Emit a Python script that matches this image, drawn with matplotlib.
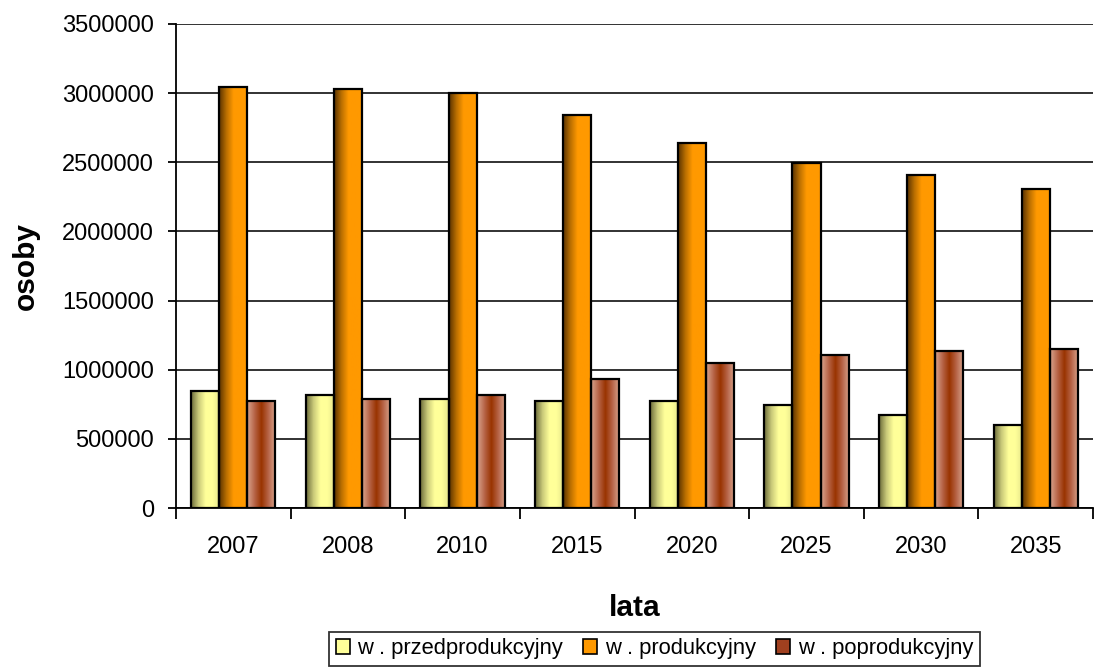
import numpy as np
import matplotlib.pyplot as plt
from matplotlib.colors import LinearSegmentedColormap
from matplotlib.patches import Patch

plt.rcParams['font.family'] = ['Liberation Sans', 'DejaVu Sans']

lata = ['2007', '2008', '2010', '2015', '2020', '2025', '2030', '2035']
przed = [846000, 817000, 785000, 774000, 774000, 745000, 673000, 600000]
prod = [3046000, 3032000, 3003000, 2844000, 2641000, 2496000, 2410000, 2308000]
popr = [774000, 789000, 818000, 933000, 1049000, 1107000, 1136000, 1150000]
nazwy = ['w . przedprodukcyjny', 'w . produkcyjny', 'w . poprodukcyjny']

# gradients (left -> right) used to fill each series
grad = [
    ['#6b6b3a', '#c8c878', '#ffff99', '#ffff99', '#e6e68c'],
    ['#5a3300', '#b86e00', '#ff9900', '#ff9900', '#ff9900'],
    ['#d9a68f', '#b8664a', '#993300', '#b8664a', '#d9a68f'],
]
base = ['#ffff99', '#ff9900', '#a0401f']

fig = plt.figure(figsize=(10.96, 6.68), dpi=100)
ax = fig.add_axes([0.1606, 0.2395, 0.8367, 0.7246])

x = np.arange(len(lata))
w = 0.245
ax.set_xlim(-0.5, len(lata) - 0.5)
ax.set_ylim(0, 3500000)

for k, vals in enumerate([przed, prod, popr]):
    bars = ax.bar(x + (k - 1) * w, vals, w, facecolor='none',
                  edgecolor='black', linewidth=1.6, zorder=3)
    cmap = LinearSegmentedColormap.from_list('g%d' % k, grad[k])
    g = np.linspace(0, 1, 64).reshape(1, -1)
    for b in bars:
        x0, y0 = b.get_x(), b.get_y()
        im = ax.imshow(g, cmap=cmap, aspect='auto', zorder=2,
                       extent=(x0, x0 + b.get_width(), y0, y0 + b.get_height()))
        im.set_clip_path(b)

ax.set_xlim(-0.5, len(lata) - 0.5)
ax.set_ylim(0, 3500000)

ax.set_yticks(np.arange(0, 3500001, 500000))
ax.set_yticklabels([str(v) for v in range(0, 3500001, 500000)])
ax.yaxis.grid(True, color='#222222', linewidth=1.3)
ax.set_axisbelow(True)

ax.set_xticks(x)
ax.set_xticklabels(lata)
ax.set_xticks(np.arange(-0.5, len(lata), 1), minor=True)
ax.tick_params(axis='x', which='major', length=0, pad=20, labelsize=17)
ax.tick_params(axis='x', which='minor', length=8, width=1.3, direction='out')
ax.tick_params(axis='y', length=6, width=1.3, labelsize=17, pad=10)

for s in ['top', 'right']:
    ax.spines[s].set_visible(False)
for s in ['left', 'bottom']:
    ax.spines[s].set_linewidth(1.3)

ax.set_ylabel('osoby', fontsize=21.5, fontweight='bold', labelpad=16)
ax.set_xlabel('lata', fontsize=21.5, fontweight='bold', labelpad=26)

handles = [Patch(facecolor=base[k], edgecolor='black', linewidth=1.2) for k in range(3)]
leg = fig.legend(handles, nazwy, loc='center', bbox_to_anchor=(0.597, 0.029),
                 ncol=3, frameon=True, fancybox=False, edgecolor='black',
                 fontsize=15.8, handlelength=0.65, handleheight=0.65,
                 handletextpad=0.35, columnspacing=0.9, borderpad=0.3,
                 borderaxespad=0)
leg.get_frame().set_linewidth(1.3)

fig.savefig('out.png', dpi=100)
